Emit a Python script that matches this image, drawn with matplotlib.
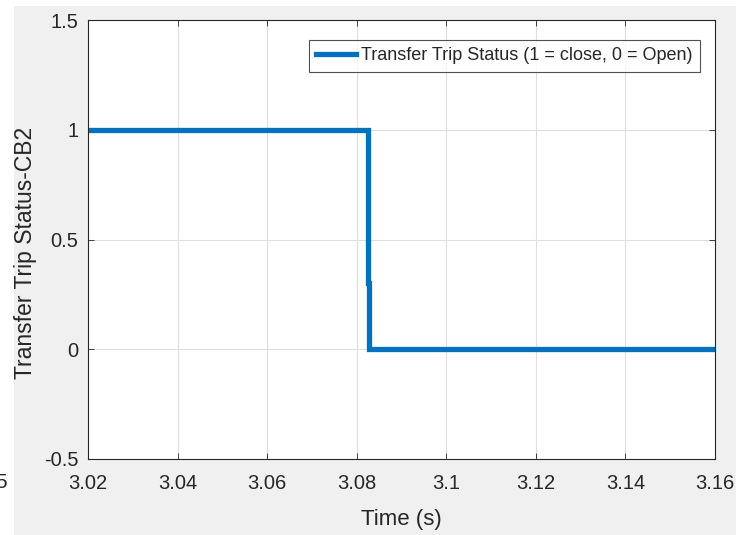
import matplotlib
matplotlib.use("Agg")
import matplotlib.pyplot as plt
from matplotlib.patches import Rectangle

# step of the trip status signal
time_s = [3.02, 3.0826, 3.0826, 3.0828, 3.0828, 3.16]
status = [1, 1, 0.3, 0.3, 0, 0]

x_ticks = [3.02, 3.04, 3.06, 3.08, 3.1, 3.12, 3.14, 3.16]
x_tick_labels = ["3.02", "3.04", "3.06", "3.08", "3.1", "3.12", "3.14", "3.16"]
y_ticks = [-0.5, 0, 0.5, 1, 1.5]
y_tick_labels = ["-0.5", "0", "0.5", "1", "1.5"]

legend_label = "Transfer Trip Status (1 = close, 0 = Open)"

plt.rcParams["font.family"] = ["Liberation Sans", "DejaVu Sans"]

W, H = 736, 535
fig = plt.figure(figsize=(W / 100, H / 100), dpi=100, facecolor="white")
fig.patches.append(
    Rectangle((14 / W, 0), 1, (H - 6) / H, transform=fig.transFigure,
              facecolor="#f0f0f0", edgecolor="none", zorder=-10)
)

ax = fig.add_axes([88 / W, (H - 459) / H, (715 - 88) / W, (459 - 20) / H])
ax.set_facecolor("white")

ax.plot(time_s, status, color="#0072bd", linewidth=3.8, label=legend_label,
        solid_joinstyle="miter")

ax.set_xlim(3.02, 3.16)
ax.set_ylim(-0.5, 1.5)
ax.set_xticks(x_ticks)
ax.set_xticklabels(x_tick_labels)
ax.set_yticks(y_ticks)
ax.set_yticklabels(y_tick_labels)
ax.grid(True, color="#dfdfdf", linewidth=0.8)
ax.set_axisbelow(True)

ax.tick_params(direction="in", top=True, right=True, length=4, width=0.6,
               colors="#262626", labelsize=14.5)
ax.tick_params(axis="x", pad=11)
ax.tick_params(axis="y", pad=7)
for s in ax.spines.values():
    s.set_color("#262626")
    s.set_linewidth(0.8)

ax.set_xlabel("Time (s)", fontsize=16, color="#262626", labelpad=11)
ax.set_ylabel("Transfer Trip Status-CB2", fontsize=16.5, color="#262626")
ax.yaxis.set_label_coords(-0.082, 0.47)

leg = ax.legend(loc="upper right", fontsize=13, frameon=True, fancybox=False,
                handlelength=2.2, handletextpad=0.3, borderpad=0.4,
                borderaxespad=0, bbox_to_anchor=(0.976, 0.954))
leg.get_frame().set_edgecolor("#262626")
leg.get_frame().set_linewidth(0.8)
for t in leg.get_texts():
    t.set_color("#262626")

# clipped fragment at the left edge
fig.text(-0.006, (H - 483) / H, "5", fontsize=15, color="#262626", va="center")

fig.savefig("out.png", dpi=100)
